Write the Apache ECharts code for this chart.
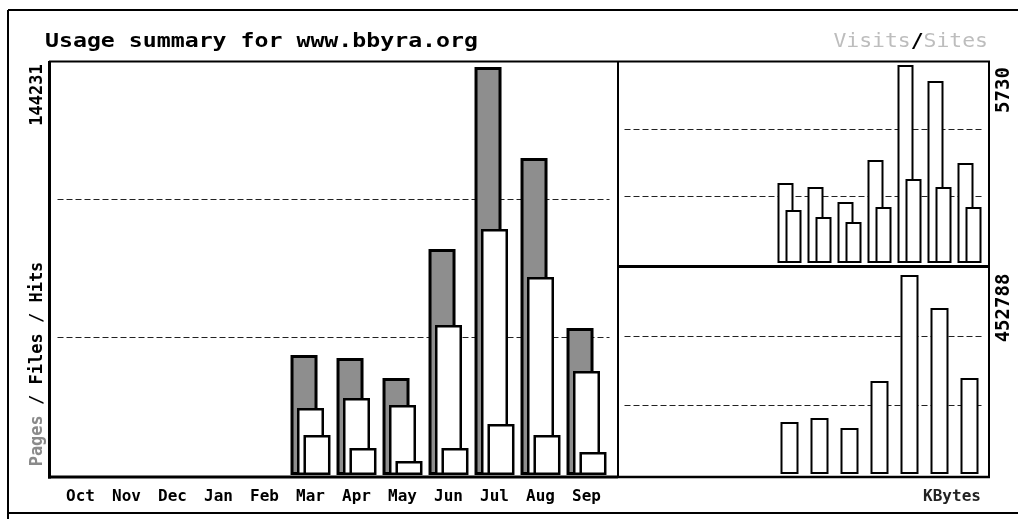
<!DOCTYPE html>
<html><head><meta charset="utf-8">
<script src="https://cdn.jsdelivr.net/npm/echarts@6/dist/echarts.min.js"></script>
<style>html,body{margin:0;padding:0;background:#fff}#c{width:1018px;height:519px}</style>
</head><body><div id="c"></div>
<script>
// ---- data ----
const months = ['Oct','Nov','Dec','Jan','Feb','Mar','Apr','May','Jun','Jul','Aug','Sep'];
const hits   = [null,null,null,null,null, 42420, 41360, 34290, 79890,144231,112060, 51960];
const files  = [null,null,null,null,null, 23680, 27220, 24740, 53020, 86960, 69990, 36760];
const pages  = [null,null,null,null,null, 14140,  9540,  4950,  9540, 18030, 14140,  8130];
const visits = [null,null,null,null,null,  2315,  2200,  1765,  2981,  5730,  5267,  2894];
const sites  = [null,null,null,null,null,  1534,  1331,  1187,  1621,  2431,  2200,  1621];
const kbytes = [null,null,null,null,null,118300,127400,104650,211580,452788,377650,218400];
const hitsLabel = '144231';
const visitsLabel = '5730';
const kbytesLabel = '452788';
// axis tops (value at the top edge of each panel)
const hitsAxisMax = 146000;
const visitsAxisMax = 5817;
const kbytesAxisMax = 468700;

const FONT = '"DejaVu Sans Mono", "Liberation Mono", monospace';
const chart = echarts.init(document.getElementById('c'), null, {renderer: 'canvas'});

function yAx(grid, max) {
  return {
    type: 'value', gridIndex: grid, min: 0, max: max, interval: max / 3,
    axisLabel: {show: false}, axisLine: {show: false}, axisTick: {show: false},
    splitLine: {show: true, showMinLine: false, showMaxLine: false,
      lineStyle: {color: '#222', width: 1, type: [6, 3]}}
  };
}
function xAx(grid, showLabels) {
  return {
    type: 'category', gridIndex: grid, data: months,
    axisLine: {show: false}, axisTick: {show: false},
    axisLabel: {show: showLabels, interval: 0, margin: 14, color: '#000',
      fontFamily: FONT, fontWeight: 'bold', fontSize: 16}
  };
}

const L = (x1, y1, x2, y2, w) => ({type: 'line', z: 50, silent: true,
  shape: {x1, y1, x2, y2}, style: {stroke: '#000', lineWidth: w}});

chart.setOption({
  animation: false,
  backgroundColor: '#fff',
  grid: [
    {left: 57.5, top: 62, width: 552, height: 413, outerBoundsMode: 'none'},
    {left: 624.5, top: 62, width: 360, height: 201, outerBoundsMode: 'none'},
    {left: 624.5, top: 268, width: 360, height: 206, outerBoundsMode: 'none'}
  ],
  xAxis: [xAx(0, true), xAx(1, false), xAx(2, false)],
  yAxis: [yAx(0, hitsAxisMax), yAx(1, visitsAxisMax), yAx(2, kbytesAxisMax)],
  series: [
    {name: 'Hits', type: 'bar', xAxisIndex: 0, yAxisIndex: 0, data: hits,
      barWidth: 27, barGap: '-76%',
      itemStyle: {color: '#8e8e8e', borderColor: '#000', borderWidth: 3}},
    {name: 'Files', type: 'bar', xAxisIndex: 0, yAxisIndex: 0, data: files,
      barWidth: 27, barGap: '-76%',
      itemStyle: {color: '#fff', borderColor: '#000', borderWidth: 2.5}},
    {name: 'Pages', type: 'bar', xAxisIndex: 0, yAxisIndex: 0, data: pages,
      barWidth: 27, barGap: '-76%',
      itemStyle: {color: '#fff', borderColor: '#000', borderWidth: 2.5}},
    {name: 'Visits', type: 'bar', xAxisIndex: 1, yAxisIndex: 1, data: visits,
      barWidth: 16, barGap: '-50%',
      itemStyle: {color: '#fff', borderColor: '#000', borderWidth: 2}},
    {name: 'Sites', type: 'bar', xAxisIndex: 1, yAxisIndex: 1, data: sites,
      barWidth: 16, barGap: '-50%',
      itemStyle: {color: '#fff', borderColor: '#000', borderWidth: 2}},
    {name: 'KBytes', type: 'bar', xAxisIndex: 2, yAxisIndex: 2, data: kbytes,
      barWidth: 18,
      itemStyle: {color: '#fff', borderColor: '#000', borderWidth: 2}}
  ],
  graphic: [
    // outer frame
    L(8, 10, 8, 519, 2), L(8, 10, 1018, 10, 2), L(8, 513, 1018, 513, 2),
    // main panel
    L(49.5, 61, 49.5, 478.5, 3), L(48, 477, 618, 477, 3), L(49, 61.5, 618, 61.5, 2),
    L(618, 61, 618, 478, 2),
    // right panels
    L(618, 61.5, 990, 61.5, 2), L(989, 61, 989, 478, 2),
    L(618, 266.5, 990, 266.5, 3), L(618, 477, 990, 477, 2.5),
    // texts
    {type: 'text', x: 45, y: 42, scaleX: 1.16, z: 60,
      style: {text: 'Usage summary for www.bbyra.org', fill: '#000',
        font: 'bold 20px ' + FONT, verticalAlign: 'middle', align: 'left'}},
    {type: 'text', x: 988, y: 42, scaleX: 1.07, z: 60,
      style: {text: '{a|Visits}{b|/}{a|Sites}', align: 'right', verticalAlign: 'middle',
        rich: {a: {fill: '#bdbdbd', font: '20px ' + FONT},
               b: {fill: '#000', font: 'bold 20px ' + FONT}}}},
    {type: 'text', x: 38, y: 95, rotation: Math.PI / 2, z: 60,
      style: {text: hitsLabel, fill: '#000', font: 'bold 17px ' + FONT,
        align: 'center', verticalAlign: 'middle'}},
    {type: 'text', x: 38, y: 364, rotation: Math.PI / 2, z: 60,
      style: {text: '{g|Pages}{k| / Files / Hits}', align: 'center', verticalAlign: 'middle',
        rich: {g: {fill: '#8a8a8a', font: 'bold 17px ' + FONT},
               k: {fill: '#000', font: 'bold 17px ' + FONT}}}},
    {type: 'text', x: 1004, y: 90, rotation: Math.PI / 2, z: 60,
      style: {text: visitsLabel, fill: '#000', font: 'bold 19px ' + FONT,
        align: 'center', verticalAlign: 'middle'}},
    {type: 'text', x: 1004, y: 308, rotation: Math.PI / 2, z: 60,
      style: {text: kbytesLabel, fill: '#000', font: 'bold 19px ' + FONT,
        align: 'center', verticalAlign: 'middle'}},
    {type: 'text', x: 952, y: 497, z: 60,
      style: {text: 'KBytes', fill: '#222', font: 'bold 16px ' + FONT,
        align: 'center', verticalAlign: 'middle'}}
  ]
});
</script></body></html>
